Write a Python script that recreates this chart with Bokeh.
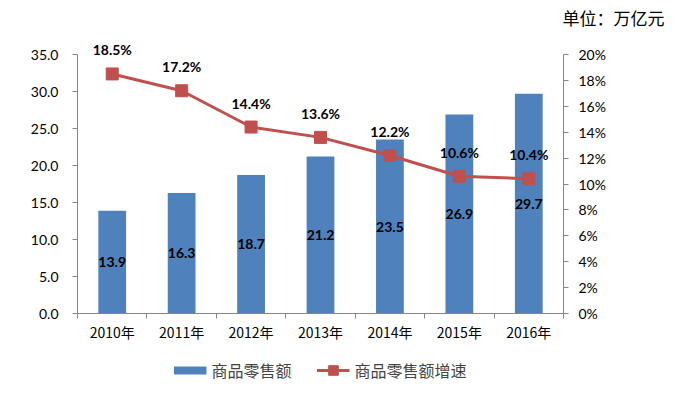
from bokeh.plotting import figure
from bokeh.layouts import column
from bokeh.models import (Range1d, LinearAxis, FixedTicker, NumeralTickFormatter,
                          PrintfTickFormatter, Legend, LegendItem, Title, ColumnDataSource)
from bokeh.core.properties import value
from bokeh.embed import file_html
from bokeh.resources import INLINE

years = ["2010年", "2011年", "2012年", "2013年", "2014年", "2015年", "2016年"]
sales = [13.9, 16.3, 18.7, 21.2, 23.5, 26.9, 29.7]
growth = [18.5, 17.2, 14.4, 13.6, 12.2, 10.6, 10.4]
left_ticks = [0, 5, 10, 15, 20, 25, 30, 35]
right_ticks = [0, 2, 4, 6, 8, 10, 12, 14, 16, 18, 20]
bar_name = "商品零售额"
line_name = "商品零售额增速"
unit_text = "单位：万亿元"

BLUE = "#4F81BD"
RED = "#C0504D"
AXIS = "#868686"
LATIN = "Lato"
CJK = "Noto Sans CJK SC"

# frame geometry: axes span 259px, frame extends 24px higher for the labels
AX_H = 259
FRAME_H = 283
left_max = left_ticks[-1]
right_max = right_ticks[-1]

n = len(years)
xpos = [i + 0.5 for i in range(n)]
src = ColumnDataSource(dict(
    x=xpos, sales=sales, half=[v / 2 for v in sales], growth=growth,
    sales_lbl=[f"{v:.1f}" for v in sales],
    growth_lbl=[f"{g:.1f}%" for g in growth],
))

p = figure(frame_width=486, frame_height=FRAME_H,
           min_border_left=77, min_border_right=126, min_border_top=30, min_border_bottom=40,
           x_range=Range1d(0, n), y_range=Range1d(0, left_max * FRAME_H / AX_H),
           x_axis_type=None, y_axis_type=None,
           output_backend="svg", toolbar_location=None)
p.extra_y_ranges = {"pct": Range1d(0, right_max * FRAME_H / AX_H)}
p.outline_line_color = None
p.background_fill_color = "white"
p.border_fill_color = "white"

def style_axis(ax):
    ax.axis_line_color = AXIS
    ax.major_tick_line_color = AXIS
    ax.minor_tick_line_color = AXIS
    ax.major_label_text_font = LATIN
    ax.major_label_text_font_size = "14px"
    ax.major_label_text_color = "#000000"

# x axis
xax = LinearAxis(ticker=FixedTicker(ticks=xpos, minor_ticks=list(range(n + 1))),
                 major_label_overrides={x: y for x, y in zip(xpos, years)})
style_axis(xax)
xax.major_label_text_font = CJK
xax.major_tick_out = 0
xax.major_tick_in = 0
xax.minor_tick_out = 5
xax.minor_tick_in = 0
xax.major_label_standoff = 3
p.add_layout(xax, "below")

# left axis
lax = LinearAxis(ticker=FixedTicker(ticks=left_ticks, minor_ticks=[]),
                 formatter=NumeralTickFormatter(format="0.0"), bounds=(0, left_max))
style_axis(lax)
lax.major_tick_out = 5
lax.major_tick_in = 0
lax.major_label_standoff = 14
p.add_layout(lax, "left")

# right axis
rax = LinearAxis(y_range_name="pct", ticker=FixedTicker(ticks=right_ticks, minor_ticks=[]),
                 formatter=PrintfTickFormatter(format="%d%%"), bounds=(0, right_max))
style_axis(rax)
rax.major_tick_out = 5
rax.major_tick_in = 0
rax.major_label_standoff = 10
p.add_layout(rax, "right")

bars = p.vbar(x="x", top="sales", width=0.4, source=src, fill_color=BLUE, line_color=None)
line = p.line(x="x", y="growth", y_range_name="pct", source=src, line_color=RED, line_width=3)
marks = p.scatter(x="x", y="growth", y_range_name="pct", source=src, marker="square",
                  size=12, fill_color=RED, line_color=RED)

p.text(x="x", y="half", text="sales_lbl", source=src, text_font=value(LATIN),
       text_font_style="bold", text_font_size="14px", text_align="center",
       text_baseline="middle", text_color="#000000")
p.text(x="x", y="growth", text="growth_lbl", source=src, y_range_name="pct", y_offset=-24,
       text_font=value(LATIN), text_font_style="bold", text_font_size="14px",
       text_align="center", text_baseline="middle", text_color="#000000")

p.add_layout(Title(text=unit_text, align="right", offset=-101, text_font=CJK,
                   text_font_size="17px", text_font_style="normal", text_color="#000000",
                   standoff=2), "above")

# legend strip below the chart; its renderers reuse the series data but lie outside
# this strip's visible range, so only their legend swatches appear
lg = figure(frame_width=486, frame_height=34,
            min_border_left=77, min_border_right=126, min_border_top=0, min_border_bottom=0,
            x_range=Range1d(0, 1), y_range=Range1d(-2, -1),
            x_axis_type=None, y_axis_type=None,
            output_backend="svg", toolbar_location=None)
lg.outline_line_color = None
sw_bar = lg.line(x="x", y="sales", source=src, line_color=BLUE, line_width=8)
sw_line = lg.line(x="x", y="growth", source=src, line_color=RED, line_width=3)
sw_mark = lg.scatter(x="x", y="growth", source=src, marker="square", size=10,
                     fill_color=RED, line_color=RED)

leg = Legend(items=[LegendItem(label=bar_name, renderers=[sw_bar]),
                    LegendItem(label=line_name, renderers=[sw_line, sw_mark])],
             location="center", orientation="horizontal", glyph_width=33, glyph_height=24,
             label_standoff=5, spacing=25, padding=0, margin=0,
             border_line_color=None, background_fill_alpha=0,
             label_text_font=CJK, label_text_font_size="16px", label_height=20)
lg.add_layout(leg, "center")

layout = column(p, lg, spacing=0)
open("out.html", "w").write(file_html(layout, INLINE))
